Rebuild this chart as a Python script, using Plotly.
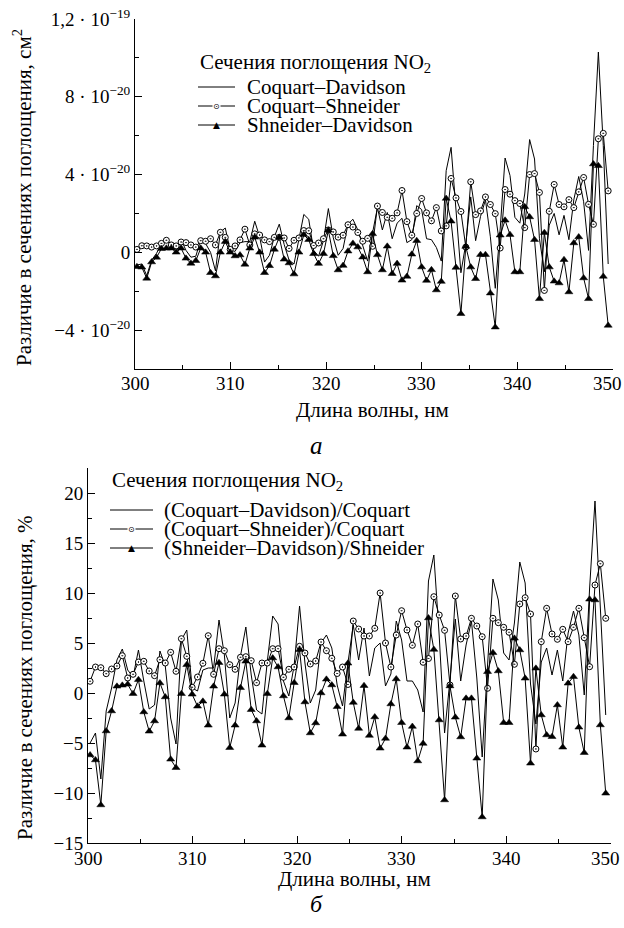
import plotly.graph_objects as go

W, H = 624, 928

# ---------------- data ----------------
WL_START = 300.2
WL_STEP = 0.5135
N_POINTS = 97
wavelength = [round(WL_START + WL_STEP * i, 3) for i in range(N_POINTS)]

# panel a: absolute differences, units of 1e-20 cm^2
abs_cd = [-0.65, -0.6, -1.2, -0.4, -0.05, 0.45, 0.7, 0.4, 0.25, 0.65,
          0.1, -0.25, -0.2, 0.65, 0.45, 0.0, -0.95, 1.05, 1.25, 0.1,
          0.05, 0.5, 0.55, 0.55, 1.6, 0.8, -0.5, -0.15, 0.8, 1.45,
          0.4, -0.4, -0.6, 0.7, 1.95, 1.7, 0.1, -0.2, 0.6, 2.25,
          0.75, -0.15, 0.2, 1.45, 1.7, 1.15, 0.3, -0.45, 1.0, 2.3,
          1.15, 2.05, 0.7, 1.5, 1.75, 0.5, 0.65, 2.4, 2.2, 0.7,
          0.65, 0.25, -0.45, 4.2, 5.4, 2.1, -1.05, 0.45, 2.85, 0.6,
          1.85, 2.7, 0.8, -1.85, 1.2, 4.85, 3.95, 1.8, 1.5, 3.0,
          5.8, 4.8, 0.7, -1.0, 1.4, 2.0, 0.9, 1.9, 0.65, 2.7,
          3.9, 2.6, 0.1, 5.5, 10.3, 5.5, -0.6]
abs_cs = [0.15, 0.34, 0.33, 0.27, 0.33, 0.46, 0.62, 0.38, 0.33, 0.53,
          0.5, 0.38, 0.27, 0.6, 0.57, 0.7, 0.38, 1.03, 0.77, 0.15,
          0.33, 0.64, 1.19, 0.38, 0.95, 0.89, 0.64, 0.55, 0.77, 0.77,
          0.74, 0.2, 0.62, 0.74, 1.12, 1.11, 0.35, 0.48, 0.7, 1.15,
          1.05, 0.78, 0.88, 1.42, 1.3, 1.02, 0.57, 0.72, 0.31, 2.38,
          2.05, 1.8, 1.75, 2.03, 3.18, 1.58, 0.88, 2.0, 2.77, 2.03,
          1.62, 2.3, 1.1, 1.36, 3.8, 2.8, 2.1, 0.27, 3.63, 1.94,
          2.13, 2.85, 2.46, 1.99, 0.22, 3.23, 2.99, 2.66, 2.51, 1.27,
          4.0, 4.05, 3.08, -1.96, 2.11, 3.49, 2.46, 2.34, 2.71, 2.3,
          3.11, 3.85, 2.47, 1.44, 5.84, 6.12, 3.16]
abs_sd = [-0.74, -0.77, -1.34, -0.5, -0.26, 0.19, 0.21, 0.21, 0.0, 0.21,
          -0.31, -0.57, -0.43, 0.21, 0.0, -1.05, -1.22, 0.0, 0.55, 0.0,
          -0.19, -0.14, -0.62, 0.21, 0.77, 0.0, -1.05, -0.69, 0.15, 0.77,
          -0.36, -0.55, -1.12, 0.0, 0.9, 0.65, -0.07, -0.58, -0.07, 1.13,
          -0.18, -0.91, -0.68, 0.06, 0.46, 0.27, -0.25, -1.01, 0.95, -0.13,
          -0.91, 0.31, -1.1, -0.58, -1.44, -1.24, -0.1, 0.6, -0.76, -1.45,
          -0.9, -1.94, -1.5, 2.77, 1.6, -0.78, -3.16, 0.3, -0.76, -1.36,
          -0.12, -0.12, -2.1, -3.85, 0.88, 1.65, 0.91, -1.01, -1.01, 2.34,
          1.82, 0.65, -2.39, 1.01, -0.76, -1.49, -1.58, -0.38, -2.04, 0.48,
          0.79, -1.32, -2.39, 4.54, 4.45, -1.24, -3.76]

# panel b: relative differences, %
rel_cd = [-5.0, -4.0, -8.6, -1.8, 0.5, 3.3, 4.4, 2.3, 1.6, 4.3,
          1.2, -1.6, -1.2, 4.2, 2.7, -2.5, -5.1, 5.3, 6.3, 0.5,
          0.2, 2.3, 2.5, 2.5, 7.3, 3.8, -2.5, -1.0, 3.7, 6.6,
          1.8, -1.7, -2.1, 3.2, 7.7, 6.9, 1.2, -0.3, 2.8, 8.7,
          3.0, -1.0, 0.3, 5.0, 5.8, 4.5, 0.8, -1.3, 3.0, 6.8,
          3.3, 6.5, 1.7, 4.5, 5.0, 0.7, 1.9, 7.2, 5.3, 1.2,
          1.2, 0.3, -1.9, 11.2, 13.8, 5.7, -4.0, 1.3, 7.4, 1.2,
          4.8, 7.2, 1.5, -6.4, 2.8, 11.4, 9.3, 4.0, 3.3, 7.0,
          13.1, 11.0, 0.9, -3.1, 3.1, 4.5, 1.8, 4.3, 1.2, 6.0,
          8.2, 5.8, -0.2, 10.5, 19.2, 8.6, -2.2]
rel_cs = [1.17, 2.6, 2.53, 1.93, 2.4, 2.7, 3.73, 1.5, 1.87, 3.1,
          3.17, 2.2, 1.73, 3.33, 3.0, 4.07, 2.17, 5.43, 3.67, 0.57,
          1.6, 2.97, 5.73, 1.87, 4.43, 4.23, 2.83, 2.37, 3.57, 3.63,
          3.23, 1.03, 3.0, 3.0, 4.43, 4.43, 1.57, 2.37, 2.6, 4.67,
          4.0, 2.9, 3.2, 5.1, 4.23, 3.47, 1.95, 2.6, 0.85, 7.2,
          6.4, 5.7, 5.7, 6.47, 10.0, 5.0, 2.6, 5.8, 8.23, 6.3,
          4.77, 6.9, 3.07, 3.45, 9.63, 7.8, 6.27, 0.8, 9.7, 5.4,
          5.7, 7.47, 6.7, 5.63, 0.47, 7.47, 7.03, 6.57, 6.07, 2.87,
          8.9, 9.53, 7.9, -5.6, 5.13, 8.47, 5.9, 5.37, 6.37, 5.13,
          6.57, 8.47, 5.53, 2.63, 10.8, 12.93, 7.47]
rel_sd = [-6.2, -6.7, -11.2, -3.8, -1.8, 0.67, 0.77, 0.87, -0.07, 1.33,
          -1.9, -3.83, -2.8, 1.0, -0.4, -6.63, -7.47, -0.07, 2.83, -0.13,
          -1.33, -0.83, -3.23, 0.67, 3.03, -0.13, -5.47, -3.23, 0.53, 3.17,
          -1.67, -2.8, -5.23, -0.07, 3.5, 2.6, -0.3, -2.5, 1.03, 4.33,
          -0.9, -4.0, -3.0, 0.0, 1.37, 0.8, -1.37, -4.13, 2.97, -0.95,
          -3.55, 0.73, -4.25, -2.4, -5.53, -4.55, -1.1, 1.4, -2.97, -5.43,
          -3.35, -6.8, -5.05, 7.5, 4.35, -2.7, -10.7, 0.7, -2.43, -4.4,
          -0.53, -0.53, -6.53, -12.4, 2.13, 4.03, 2.2, -2.97, -2.97, 5.47,
          4.3, 1.47, -7.03, 2.47, -2.2, -4.2, -4.37, -1.2, -5.43, 0.97,
          1.63, -3.43, -5.97, 9.37, 9.3, -3.2, -10.03]

x_tickvals = [300, 310, 320, 330, 340, 350]
x_ticktext = ["300", "310", "320", "330", "340", "350"]
top_ytickvals = [-4, 0, 4, 8, 12]
top_yticktext = ["−4 · 10<sup>−20</sup>", "0", "4 · 10<sup>−20</sup>",
                 "8 · 10<sup>−20</sup>", "1,2 · 10<sup>−19</sup>"]
top_yminor = [-2, 2, 6, 10]

legend_title = "Сечения поглощения NO<sub>2</sub>"
top_names = ["Coquart–Davidson", "Coquart–Shneider", "Shneider–Davidson"]
bot_names = ["(Coquart–Davidson)/Coquart", "(Coquart–Shneider)/Coquart",
             "(Shneider–Davidson)/Shneider"]

SERIF = "Liberation Serif"
TOP_AXIS_Y, BOT_AXIS_Y = 369, 843   # pixel rows of the two x axes


def px(x):
    return x / W


def py(y):
    return 1 - y / H


line_style = dict(color="black", width=1)
circle_marker = dict(symbol="circle-dot", size=6, color="white",
                     line=dict(color="black", width=1))
tri_marker = dict(symbol="triangle-up", size=7, color="black",
                  line=dict(color="black", width=0.5))

fig = go.Figure()
for xa, ya, cd, cs, sd in [("x", "y", abs_cd, abs_cs, abs_sd),
                           ("x2", "y2", rel_cd, rel_cs, rel_sd)]:
    fig.add_trace(go.Scatter(x=wavelength, y=cd, mode="lines", line=line_style,
                             xaxis=xa, yaxis=ya, showlegend=False, hoverinfo="skip"))
    fig.add_trace(go.Scatter(x=wavelength, y=cs, mode="lines+markers", line=line_style,
                             marker=circle_marker, xaxis=xa, yaxis=ya,
                             showlegend=False, hoverinfo="skip"))
    fig.add_trace(go.Scatter(x=wavelength, y=sd, mode="lines+markers", line=line_style,
                             marker=tri_marker, xaxis=xa, yaxis=ya,
                             showlegend=False, hoverinfo="skip"))

axis_common = dict(showline=True, linecolor="black", linewidth=1, mirror=False,
                   ticks="inside", ticklen=7, tickwidth=1, tickcolor="black",
                   showgrid=False, zeroline=False, automargin=False,
                   tickfont=dict(family=SERIF, size=19, color="black"))
x_common = dict(axis_common, range=[300, 350], tickmode="array",
                tickvals=x_tickvals, showticklabels=False,
                minor=dict(ticks="inside", ticklen=4, tickcolor="black",
                           tickmode="linear", dtick=5, tick0=300))

fig.update_layout(
    template="none",
    width=W, height=H, margin=dict(l=0, r=0, t=0, b=0, pad=0),
    paper_bgcolor="white", plot_bgcolor="white", showlegend=False,
    font=dict(family=SERIF, color="black"),
    xaxis=dict(x_common, domain=[px(135), px(613)], anchor="y"),
    yaxis=dict(axis_common, domain=[py(TOP_AXIS_Y), py(19)], range=[-6, 12], anchor="x",
               tickmode="array", tickvals=top_ytickvals, ticktext=top_yticktext,
               minor=dict(ticks="inside", ticklen=4, tickcolor="black",
                          tickmode="array", tickvals=top_yminor)),
    xaxis2=dict(x_common, domain=[px(88), px(611)], anchor="y2"),
    yaxis2=dict(axis_common, domain=[py(BOT_AXIS_Y), py(468)], range=[-15, 22.5], anchor="x2",
                tick0=0, dtick=5,
                minor=dict(ticks="inside", ticklen=4, tickcolor="black", dtick=2.5, tick0=0)),
)

ann = []
shapes = []


def text(x, y, s, size=21, xanchor="center", angle=0, italic=False):
    ann.append(dict(x=px(x), y=py(y), xref="paper", yref="paper", text=s,
                    showarrow=False, xanchor=xanchor, yanchor="middle", textangle=angle,
                    font=dict(family=SERIF, size=size, color="black",
                              style="italic" if italic else "normal")))


# x tick labels (placed on the axes' own data coordinates)
for xref, axis_y in [("x", TOP_AXIS_Y), ("x2", BOT_AXIS_Y)]:
    for v, t in zip(x_tickvals, x_ticktext):
        last = v == x_tickvals[-1]
        ann.append(dict(x=v, y=py(axis_y + 15), xref=xref, yref="paper", text=t,
                        showarrow=False, xanchor="center", yanchor="middle",
                        xshift=-6 if last else 0,
                        font=dict(family=SERIF, size=19, color="black")))

# axis titles and panel letters
text(22, 198, "Различие в сечениях поглощения, см<sup>2</sup>", size=21, angle=-90)
text(25, 678, "Различие в сечениях поглощения, %", size=21, angle=-90)
text(372, 410, "Длина волны, нм", size=21)
text(354, 879, "Длина волны, нм", size=21)
text(316, 445, "а", size=25, italic=True)
text(316, 904, "б", size=24, italic=True)


def legend(x0, x1, xtext, ytitle, rows, names, size):
    text(x0, ytitle, legend_title, size=size, xanchor="left")
    xm = (x0 + x1) / 2
    for k, (yy, nm) in enumerate(zip(rows, names)):
        shapes.append(dict(type="line", xref="paper", yref="paper",
                           x0=px(x0), x1=px(x1), y0=py(yy), y1=py(yy),
                           line=dict(color="black", width=1)))
        text(xtext, yy, nm, size=size, xanchor="left")
        if k == 1:
            ann.append(dict(x=px(xm), y=py(yy), xref="paper", yref="paper", text="⊙",
                            showarrow=False, xanchor="center", yanchor="middle",
                            bgcolor="white", borderpad=0,
                            font=dict(family="DejaVu Sans", size=8, color="black")))
        if k == 2:
            ann.append(dict(x=px(xm), y=py(yy), xref="paper", yref="paper", text="▲",
                            showarrow=False, xanchor="center", yanchor="middle",
                            font=dict(family="DejaVu Sans", size=9, color="black")))


legend(198, 235, 245, 63, [87, 106, 125], top_names, 21)
legend(110, 153, 162, 481, [510, 529, 548], bot_names, 21)

fig.update_layout(annotations=ann, shapes=shapes)
fig.write_html(
    "out.html",
    config={"displayModeBar": False},
    post_script=("document.body.style.margin='0';"
                 "document.body.style.overflow='hidden';"
                 "document.documentElement.style.overflow='hidden';"),
)
